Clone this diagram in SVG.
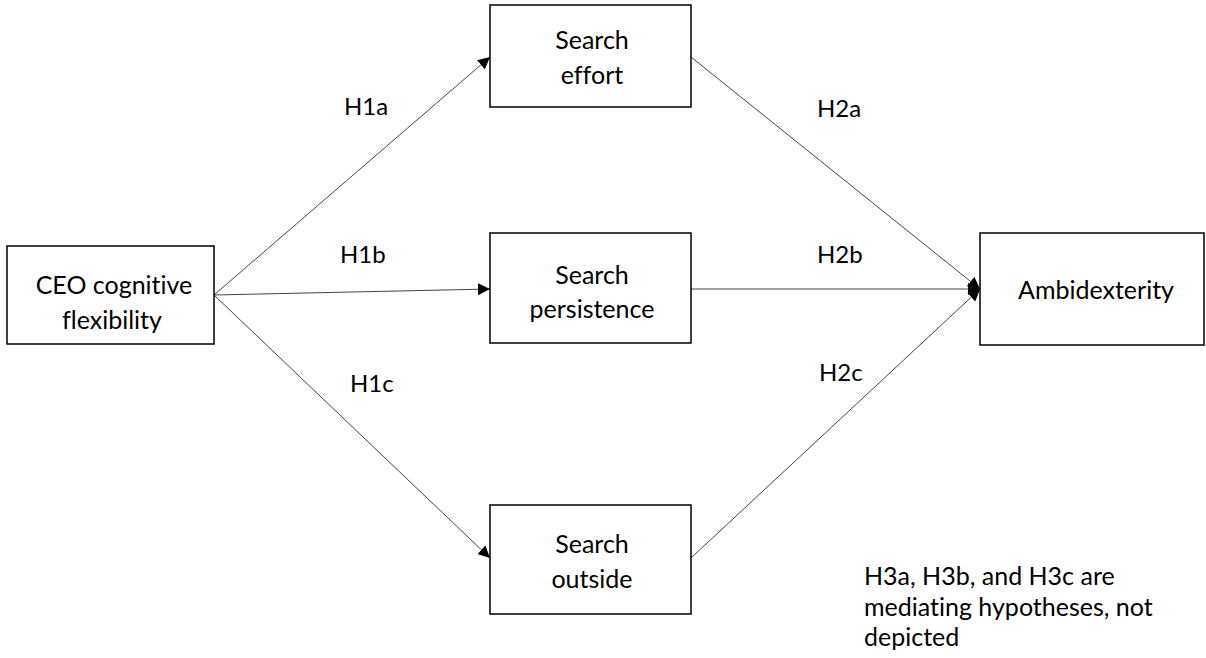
<svg xmlns="http://www.w3.org/2000/svg" width="1206" height="658" viewBox="0 0 1206 658">
<style>
text{font-variant-ligatures:none}
.box{fill:#fff;stroke:#000;stroke-width:1.5}
.t{font-family:Lato,"Open Sans",sans-serif;font-size:25px;fill:#000;text-anchor:middle}
.l{font-family:Lato,"Open Sans",sans-serif;font-size:24px;fill:#000}
.n{font-family:Lato,"Open Sans",sans-serif;font-size:25px;fill:#000}
.c{stroke:#444;stroke-width:1;fill:none;marker-end:url(#ah)}
</style>
<defs>
<marker id="ah" viewBox="0 0 10 10" refX="10" refY="5" markerWidth="12" markerHeight="12" markerUnits="userSpaceOnUse" orient="auto">
<path d="M0,0 L10,5 L0,10 z" fill="#000"/>
</marker>
</defs>
<rect width="1206" height="658" fill="#fff"/>
<g id="connectors">
<line class="c" x1="214" y1="295" x2="490" y2="57"/>
<line class="c" x1="214" y1="295" x2="490" y2="289"/>
<line class="c" x1="214" y1="295" x2="490" y2="558"/>
<line class="c" x1="691" y1="57" x2="980" y2="289"/>
<line class="c" x1="691" y1="289" x2="980" y2="289"/>
<line class="c" x1="691" y1="558" x2="980" y2="289"/>
<text class="l" x="344" y="115">H1a</text>
<text class="l" x="340" y="263">H1b</text>
<text class="l" x="350" y="392">H1c</text>
<text class="l" x="817" y="117">H2a</text>
<text class="l" x="817" y="263">H2b</text>
<text class="l" x="819" y="381">H2c</text>
</g>
<g id="ceo">
<rect class="box" x="7" y="246" width="207" height="98"/>
<text class="t" x="114" y="294">CEO cognitive</text>
<text class="t" x="112" y="329">flexibility</text>
</g>
<g id="effort">
<rect class="box" x="490" y="5" width="201" height="102"/>
<text class="t" x="592" y="49">Search</text>
<text class="t" x="592" y="84">effort</text>
</g>
<g id="persistence">
<rect class="box" x="490" y="233" width="201" height="110"/>
<text class="t" x="592" y="284">Search</text>
<text class="t" x="592" y="318">persistence</text>
</g>
<g id="outside">
<rect class="box" x="490" y="505" width="201" height="109"/>
<text class="t" x="592" y="553">Search</text>
<text class="t" x="592" y="588">outside</text>
</g>
<g id="ambidexterity">
<rect class="box" x="980" y="233" width="224" height="112"/>
<text class="t" x="1096" y="299">Ambidexterity</text>
</g>
<g id="note">
<text class="n" x="864" y="585">H3a, H3b, and H3c are</text>
<text class="n" x="864" y="616">mediating hypotheses, not</text>
<text class="n" x="864" y="646">depicted</text>
</g>
</svg>
